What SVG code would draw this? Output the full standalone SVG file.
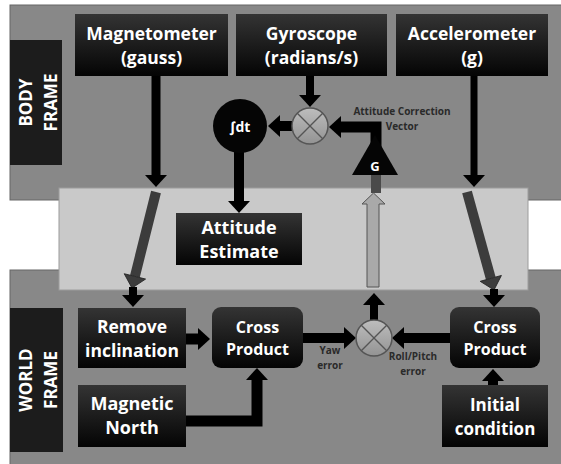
<svg xmlns="http://www.w3.org/2000/svg" width="561" height="464" viewBox="0 0 561 464">
  <style>
    .panel { fill: #888888; stroke: #666666; stroke-width: 1; }
    .band { fill: #c9c9c9; stroke: #9c9c9c; stroke-width: 1; }
    .frame { fill: #1c1c1c; }
    .box { fill: url(#boxFill); }
    .big { font-family: "Open Sans", "Liberation Sans", sans-serif; font-weight: bold; fill: #ffffff; text-anchor: middle; }
    .small { font-family: "Open Sans", "Liberation Sans", sans-serif; font-weight: bold; font-size: 10px; fill: #2a2a2a; text-anchor: middle; }
    .wire { fill: none; stroke: #000000; }
    .wire-grey { fill: none; stroke: #3c3c3c; }
    .sum { fill: url(#sumFill); stroke: #555555; stroke-width: 1.5; }
    .cross { stroke: #555555; stroke-width: 1.3; }
  </style>
  <defs>
    <linearGradient id="boxFill" x1="0" y1="0" x2="0" y2="1">
      <stop offset="0" stop-color="#343434"/>
      <stop offset="1" stop-color="#040404"/>
    </linearGradient>
    <linearGradient id="sumFill" x1="0" y1="0" x2="0" y2="1">
      <stop offset="0" stop-color="#bdbdbd"/>
      <stop offset="1" stop-color="#939393"/>
    </linearGradient>
    <marker id="head" markerUnits="userSpaceOnUse" markerWidth="14" markerHeight="22" refX="0" refY="11" orient="auto" overflow="visible">
      <path d="M0,0 L12,11 L0,22 z" fill="#000000"/>
    </marker>
    <marker id="headGrey" markerUnits="userSpaceOnUse" markerWidth="14" markerHeight="22" refX="0" refY="11" orient="auto" overflow="visible">
      <path d="M0,0 L12,11 L0,22 z" fill="#3c3c3c" stroke="#222222" stroke-width="0.8"/>
    </marker>
  </defs>

  <!-- frame panels and the shared band between them -->
  <g id="frames">
    <rect class="panel" x="10" y="5" width="552" height="195"/>
    <rect class="panel" x="10" y="270" width="552" height="195" fill="#848484"/>
    <rect class="band" x="59" y="188" width="469" height="102"/>
  </g>

  <g id="connectors">
    <!-- sensor outputs -->
    <line class="wire" x1="156" y1="76" x2="156" y2="175" stroke-width="9" marker-end="url(#head)"/>
    <line class="wire" x1="310" y1="76" x2="310" y2="95" stroke-width="8" marker-end="url(#head)"/>
    <line class="wire" x1="474" y1="76" x2="474" y2="175" stroke-width="7" marker-end="url(#head)"/>
    <!-- integrator loop -->
    <line class="wire" x1="292" y1="126" x2="280" y2="126" stroke-width="10" marker-end="url(#head)"/>
    <polyline class="wire" points="376,150 376,127 341,127" stroke-width="11" stroke-linejoin="miter" marker-end="url(#head)"/>
    <line class="wire" x1="239" y1="150" x2="239" y2="201" stroke-width="10" marker-end="url(#head)"/>
    <!-- transfer into the world frame -->
    <line class="wire-grey" x1="156" y1="192" x2="134.9" y2="276.4" stroke-width="10" marker-end="url(#headGrey)"/>
    <line class="wire" x1="133" y1="287" x2="133" y2="295" stroke-width="8" marker-end="url(#head)"/>
    <line class="wire-grey" x1="467" y1="192" x2="490.8" y2="278.4" stroke-width="10" marker-end="url(#headGrey)"/>
    <line class="wire" x1="494" y1="289" x2="494" y2="295" stroke-width="8" marker-end="url(#head)"/>
    <!-- error feedback back up to the gain -->
    <rect x="371" y="175" width="10" height="18" fill="#4a4a4a"/>
    <polygon points="367,287 367,204 362,204 373.5,193 385,204 379,204 379,287" fill="#a9a9a9" stroke="#555555" stroke-width="1"/>
    <line class="wire" x1="374" y1="320" x2="374" y2="305" stroke-width="8" marker-end="url(#head)"/>
    <!-- world frame errors -->
    <line class="wire" x1="303" y1="338" x2="344" y2="338" stroke-width="10" marker-end="url(#head)"/>
    <line class="wire" x1="450" y1="338" x2="404" y2="338" stroke-width="10" marker-end="url(#head)"/>
    <line class="wire" x1="186" y1="339" x2="198" y2="339" stroke-width="11" marker-end="url(#head)"/>
    <polyline class="wire" points="186,421 257,421 257,380" stroke-width="11" stroke-linejoin="miter" marker-end="url(#head)"/>
    <line class="wire" x1="493" y1="386" x2="493" y2="381" stroke-width="10" marker-end="url(#head)"/>
  </g>

  <g id="connector-labels">
    <text class="small" x="402" y="115">Attitude Correction</text>
    <text class="small" x="402" y="130">Vector</text>
    <text class="small" x="330" y="354">Yaw</text>
    <text class="small" x="330" y="369">error</text>
    <text class="small" x="413" y="360">Roll/Pitch</text>
    <text class="small" x="413" y="375">error</text>
  </g>

  <g id="body-frame-label">
    <rect class="frame" x="10" y="40" width="52" height="125"/>
    <g transform="translate(32,102.5) rotate(-90)">
      <text class="big" x="0" y="0" font-size="17">BODY</text>
      <text class="big" x="0" y="25" font-size="17">FRAME</text>
    </g>
  </g>

  <g id="world-frame-label">
    <rect class="frame" x="10" y="308" width="53" height="144"/>
    <g transform="translate(32,380) rotate(-90)">
      <text class="big" x="0" y="0" font-size="17">WORLD</text>
      <text class="big" x="0" y="25" font-size="17">FRAME</text>
    </g>
  </g>

  <g id="magnetometer">
    <rect class="box" x="75" y="14" width="153" height="62"/>
    <text class="big" x="151.5" y="40" font-size="17.5">Magnetometer</text>
    <text class="big" x="151.5" y="64" font-size="17.5">(gauss)</text>
  </g>

  <g id="gyroscope">
    <rect class="box" x="236" y="14" width="151" height="62"/>
    <text class="big" x="311.5" y="40" font-size="17.5">Gyroscope</text>
    <text class="big" x="311.5" y="64" font-size="17.5">(radians/s)</text>
  </g>

  <g id="accelerometer">
    <rect class="box" x="396" y="14" width="152" height="62"/>
    <text class="big" x="472" y="40" font-size="17.5">Accelerometer</text>
    <text class="big" x="472" y="64" font-size="17.5">(g)</text>
  </g>

  <g id="integrator">
    <circle cx="240" cy="126" r="27" fill="#050505"/>
    <text class="big" x="240" y="132" font-size="14">∫dt</text>
  </g>

  <g id="gyro-sum">
    <circle class="sum" cx="310" cy="126" r="18"/>
    <line class="cross" x1="297.3" y1="113.3" x2="322.7" y2="138.7"/>
    <line class="cross" x1="322.7" y1="113.3" x2="297.3" y2="138.7"/>
  </g>

  <g id="gain">
    <polygon points="352,175 398,175 375,135" fill="#050505"/>
    <text class="big" x="375" y="171" font-size="13">G</text>
  </g>

  <g id="attitude-estimate">
    <rect class="box" x="176" y="213" width="126" height="52" fill="#1a1a1a"/>
    <text class="big" x="239" y="234" font-size="18">Attitude</text>
    <text class="big" x="239" y="258" font-size="18">Estimate</text>
  </g>

  <g id="remove-inclination">
    <rect class="box" x="78" y="308" width="108" height="60"/>
    <text class="big" x="132" y="333" font-size="17.5">Remove</text>
    <text class="big" x="132" y="357" font-size="17.5">inclination</text>
  </g>

  <g id="cross-product-yaw">
    <rect class="box" x="212" y="307" width="91" height="61" rx="9"/>
    <text class="big" x="257.5" y="333" font-size="16">Cross</text>
    <text class="big" x="257.5" y="355" font-size="16">Product</text>
  </g>

  <g id="error-sum">
    <circle class="sum" cx="374" cy="338" r="18"/>
    <line class="cross" x1="361.3" y1="325.3" x2="386.7" y2="350.7"/>
    <line class="cross" x1="386.7" y1="325.3" x2="361.3" y2="350.7"/>
  </g>

  <g id="cross-product-roll-pitch">
    <rect class="box" x="450" y="307" width="90" height="61" rx="9"/>
    <text class="big" x="495" y="333" font-size="16">Cross</text>
    <text class="big" x="495" y="355" font-size="16">Product</text>
  </g>

  <g id="magnetic-north">
    <rect class="box" x="78" y="385" width="108" height="62"/>
    <text class="big" x="132" y="410" font-size="18">Magnetic</text>
    <text class="big" x="132" y="434" font-size="18">North</text>
  </g>

  <g id="initial-condition">
    <rect class="box" x="442" y="385" width="106" height="62"/>
    <text class="big" x="495" y="411" font-size="17">Initial</text>
    <text class="big" x="495" y="435" font-size="17">condition</text>
  </g>
</svg>
